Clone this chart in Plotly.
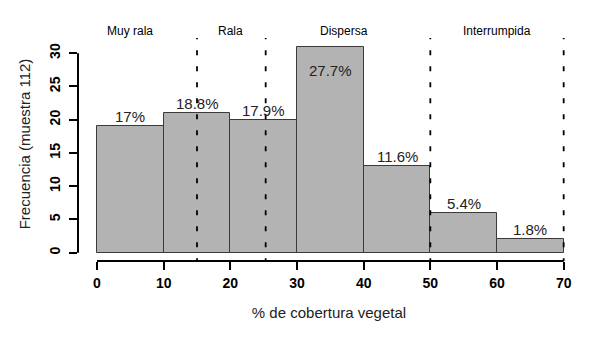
import plotly.graph_objects as go

# Data
bin_edges = [0, 10, 20, 30, 40, 50, 60, 70]
counts = [19, 21, 20, 31, 13, 6, 2]
sample_size = 112
class_names = ["Muy rala", "Rala", "Dispersa", "Interrumpida"]
class_label_x = [5, 20, 37, 60]
class_bounds = [15, 25.3, 50, 70]
x_ticks = [0, 10, 20, 30, 40, 50, 60, 70]
y_ticks = [0, 5, 10, 15, 20, 25, 30]

centers = [(a + b) / 2 for a, b in zip(bin_edges[:-1], bin_edges[1:])]
widths = [b - a for a, b in zip(bin_edges[:-1], bin_edges[1:])]
pct = [round(c / sample_size * 100, 1) for c in counts]
pct_text = [f"{p:g}%" for p in pct]
maxc = max(counts)

FONT = "Liberation Sans, Arial, Helvetica, sans-serif"
TXT = "#222222"

fig = go.Figure()
fig.add_trace(go.Bar(
    x=centers, y=counts, width=widths,
    marker=dict(color="#b3b3b3", line=dict(color="#3a3a3a", width=1)),
    showlegend=False, hoverinfo="skip",
))

x0, x1 = -2.85, 72.45
y0, y1 = -1.25, 33.94

shapes = [
    dict(type="line", xref="x", yref="paper", x0=0, x1=70, y0=0, y1=0,
         line=dict(color="black", width=2)),
    dict(type="line", xref="paper", yref="y", x0=0, x1=0, y0=0, y1=30,
         line=dict(color="black", width=2)),
]
for b in class_bounds:
    shapes.append(dict(type="line", xref="x", yref="y", x0=b, x1=b, y0=-1.6, y1=32.3,
                       line=dict(color="black", width=1.8, dash="5px,11px"), layer="above"))

annotations = [
    dict(x=xv, y=33.4, xref="x", yref="y", text=t, showarrow=False,
         font=dict(family=FONT, size=12, color="black"))
    for xv, t in zip(class_label_x, class_names)
]
for cx, c, t in zip(centers, counts, pct_text):
    inside = c == maxc
    annotations.append(dict(
        x=cx, y=c, xref="x", yref="y", text=t, showarrow=False,
        yanchor="top" if inside else "bottom", yshift=-13 if inside else -1,
        font=dict(family=FONT, size=15, color=TXT)))

fig.update_layout(
    width=603, height=341,
    margin=dict(l=70, r=31, t=19, b=88),
    paper_bgcolor="white", plot_bgcolor="white",
    font=dict(family=FONT, color=TXT),
    shapes=shapes, annotations=annotations,
    bargap=0,
    xaxis=dict(range=[x0, x1], tickvals=x_ticks, ticks="outside", ticklen=8, tickwidth=2,
               tickcolor="black", showline=False, showgrid=False, zeroline=False,
               automargin=False, ticklabelstandoff=1,
               tickfont=dict(family=FONT, size=14, color="black", weight="bold"),
               title=dict(text="% de cobertura vegetal", font=dict(family=FONT, size=15, color=TXT),
                          standoff=17)),
    yaxis=dict(range=[y0, y1], tickvals=y_ticks, ticks="outside", ticklen=8, tickwidth=2,
               tickcolor="black", showline=False, showgrid=False, zeroline=False, tickangle=-90,
               automargin=False, ticklabelstandoff=3,
               tickfont=dict(family=FONT, size=14, color="black", weight="bold"),
               title=dict(text="Frecuencia (muestra 112)", font=dict(family=FONT, size=15, color=TXT),
                          standoff=13)),
)

fig.write_html("out.html")
